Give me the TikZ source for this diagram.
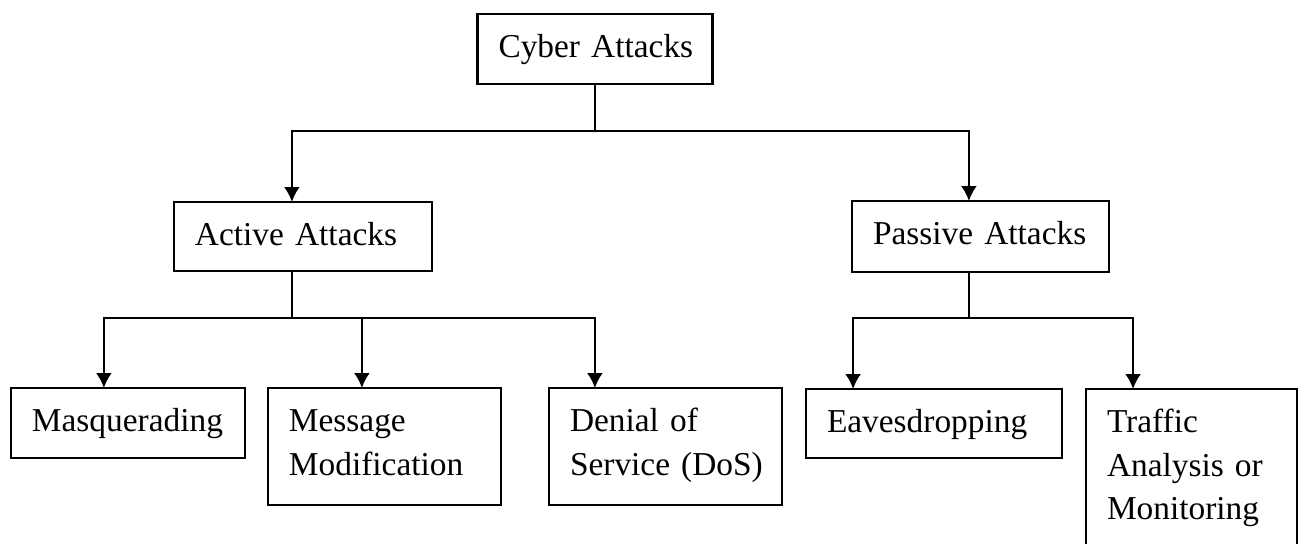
\documentclass[tikz,border=0pt]{standalone}
\usepackage{fontspec}
\setmainfont{Liberation Serif}
\usetikzlibrary{calc, arrows.meta}
\hyphenpenalty=10000

\begin{document}
\begin{tikzpicture}[x=0.02cm, y=-0.02cm, line width=1.3pt,
  attack/.style={draw, rectangle, anchor=north west, align=left, inner xsep=0.42cm, inner ysep=0pt, outer sep=0pt, text height=0.88cm, font=\fontsize{19pt}{24.5pt}\selectfont},
  arr/.style={-{Latex[length=0.3cm, width=0.32cm]}}]
 \useasboundingbox (0,0) rectangle (1298,544);
 % boxes
 \node[attack, text width=3.86cm, text depth=0.52cm] (cyber) at (477.5,14) {Cyber~Attacks};
 \node[attack, text width=4.32cm, text depth=0.50cm] (active) at (174,202) {Active~Attacks};
 \node[attack, text width=4.30cm, text depth=0.54cm] (passive) at (852,201) {Passive~Attacks};
 \node[attack, text width=3.84cm, text depth=0.52cm] (masq) at (11,388) {Masquerading};
 \node[attack, text width=3.82cm, text depth=1.46cm] (msg) at (268,388) {Message\\Modification};
 \node[attack, text width=3.82cm, text depth=1.46cm] (dos) at (549,388) {Denial~of\\Service~(DoS)};
 \node[attack, text width=4.28cm, text depth=0.50cm] (eaves) at (806,389) {Eavesdropping};
 \node[attack, text width=3.38cm, text depth=2.30cm] (traffic) at (1086,389) {Traffic\\Analysis~or\\Monitoring};
 % where the lines split
 \coordinate (bus1) at (0,131);
 \coordinate (bus2) at (0,318);
 \coordinate (acttip) at ($(active.north west)!0.457!(active.north east)$);
 \coordinate (pastip) at ($(passive.north west)!0.455!(passive.north east)$);
 \coordinate (mastip) at ($(masq.north west)!0.397!(masq.north east)$);
 \coordinate (msgtip) at ($(msg.north west)!0.403!(msg.north east)$);
 \coordinate (dostip) at ($(dos.north west)!0.197!(dos.north east)$);
 \coordinate (eavtip) at ($(eaves.north west)!0.184!(eaves.north east)$);
 \coordinate (tratip) at ($(traffic.north west)!0.223!(traffic.north east)$);
 % top level
 \draw (cyber.south) -- (cyber.south |- bus1);
 \draw[arr] (cyber.south |- bus1) -| (acttip);
 \draw[arr] (cyber.south |- bus1) -| (pastip);
 % active attacks
 \draw (acttip |- active.south) -- (acttip |- bus2);
 \draw[arr] (acttip |- bus2) -| (mastip);
 \draw[arr] (acttip |- bus2) -| (dostip);
 \draw[arr] (msgtip |- bus2) -- (msgtip);
 % passive attacks
 \draw (pastip |- passive.south) -- (pastip |- bus2);
 \draw[arr] (pastip |- bus2) -| (eavtip);
 \draw[arr] (pastip |- bus2) -| (tratip);
\end{tikzpicture}
\end{document}
